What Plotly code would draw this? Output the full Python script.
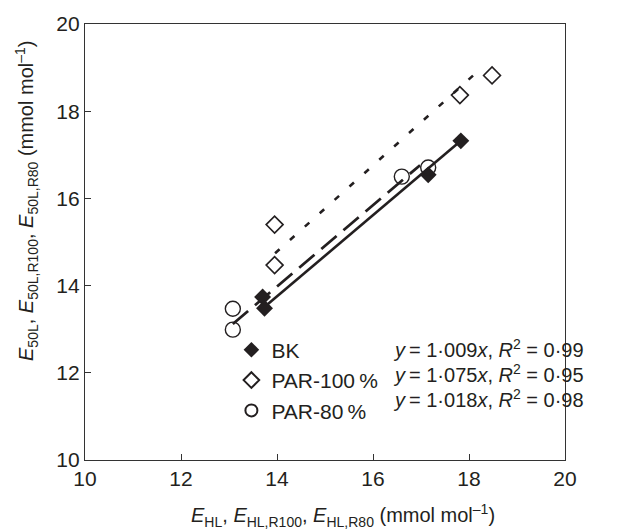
import plotly.graph_objects as go

# Measured points (mmol mol-1): x = high-light estimate, y = 50 % light estimate
bk_x = [13.70, 13.74, 17.15, 17.83]
bk_y = [13.74, 13.48, 16.54, 17.32]
par100_x = [13.95, 13.95, 17.81, 18.48]
par100_y = [15.40, 14.47, 18.37, 18.82]
par80_x = [13.08, 13.08, 16.60, 17.15]
par80_y = [13.47, 12.99, 16.50, 16.71]

# Fitted line end points for each treatment
bk_fit_x = [13.75, 17.83]
bk_fit_y = [13.52, 17.32]
par100_fit_x = [13.96, 18.27]
par100_fit_y = [14.74, 19.00]
par80_fit_x = [13.08, 16.98]
par80_fit_y = [13.12, 16.76]

series_names = ["BK", "PAR-100\u2009%", "PAR-80\u2009%"]
equations = [
    "<i>y</i>\u2009= 1·009<i>x</i>, <i>R</i><sup>2</sup> = 0·99",
    "<i>y</i>\u2009= 1·075<i>x</i>, <i>R</i><sup>2</sup> = 0·95",
    "<i>y</i>\u2009= 1·018<i>x</i>, <i>R</i><sup>2</sup> = 0·98",
]

INK = "#231f20"
FONT = "Arial, Liberation Sans, sans-serif"

fig = go.Figure()

# regression lines
fig.add_trace(go.Scatter(x=bk_fit_x, y=bk_fit_y, mode="lines", showlegend=False,
                         line=dict(color=INK, width=2.6)))
fig.add_trace(go.Scatter(x=par100_fit_x, y=par100_fit_y, mode="lines", showlegend=False,
                         line=dict(color=INK, width=2.6, dash="6px,14px")))
fig.add_trace(go.Scatter(x=par80_fit_x, y=par80_fit_y, mode="lines", showlegend=False,
                         line=dict(color=INK, width=2.8, dash="20px,9px")))

# data points
fig.add_trace(go.Scatter(x=bk_x, y=bk_y, mode="markers", name=series_names[0],
                         marker=dict(symbol="diamond", size=13, color=INK,
                                     line=dict(width=0))))
fig.add_trace(go.Scatter(x=par100_x, y=par100_y, mode="markers", name=series_names[1],
                         marker=dict(symbol="diamond-open", size=13, color=INK,
                                     line=dict(width=1.6, color=INK))))
fig.add_trace(go.Scatter(x=par80_x, y=par80_y, mode="markers", name=series_names[2],
                         marker=dict(symbol="circle-open", size=15, color=INK,
                                     line=dict(width=1.4, color=INK))))

axis_common = dict(
    range=[10, 20], dtick=2, ticks="inside", ticklen=6, tickwidth=1.2,
    tickcolor="#333", showline=True, linecolor="#333", linewidth=1.3,
    mirror=True, showgrid=False, zeroline=False,
    tickfont=dict(family=FONT, size=21, color=INK),
)

annotations = []
eq_rows = [0.256, 0.199, 0.142]
for eq, yy in zip(equations, eq_rows):
    annotations.append(dict(xref="paper", yref="paper", x=0.637, y=yy,
                            xanchor="left", yanchor="middle", showarrow=False,
                            text=eq, font=dict(family=FONT, size=20, color=INK)))

annotations.append(dict(
    xref="paper", yref="paper", x=0.537, y=-0.127, xanchor="center", yanchor="middle",
    showarrow=False,
    text="<i>E</i><sub>HL</sub>, <i>E</i><sub>HL,R100</sub>, <i>E</i><sub>HL,R80</sub> (mmol mol<sup>–1</sup>)",
    font=dict(family=FONT, size=20, color=INK)))
annotations.append(dict(
    xref="paper", yref="paper", x=-0.123, y=0.594, xanchor="center", yanchor="middle",
    showarrow=False, textangle=-90,
    text="<i>E</i><sub>50L</sub>, <i>E</i><sub>50L,R100</sub>, <i>E</i><sub>50L,R80</sub> (mmol mol<sup>–1</sup>)",
    font=dict(family=FONT, size=20, color=INK)))

fig.update_layout(
    width=626, height=529,
    margin=dict(l=85, r=61, t=19, b=69),
    paper_bgcolor="white", plot_bgcolor="white",
    xaxis=axis_common, yaxis=axis_common,
    font=dict(family=FONT, color=INK),
    legend=dict(x=0.305, y=0.299, xanchor="left", yanchor="top",
                bgcolor="rgba(0,0,0,0)", font=dict(family=FONT, size=21, color=INK),
                itemwidth=30, tracegroupgap=0, itemsizing="constant"),
    annotations=annotations,
)

fig.write_html("out.html")
